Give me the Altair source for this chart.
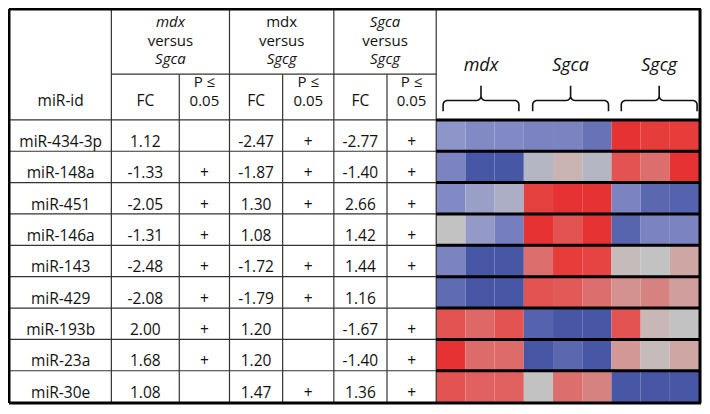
import altair as alt
import pandas as pd
import numpy as np

# ---------------- data ----------------
mirs = ["miR-434-3p", "miR-148a", "miR-451", "miR-146a", "miR-143",
        "miR-429", "miR-193b", "miR-23a", "miR-30e"]
fc_mdx_sgca = [1.12, -1.33, -2.05, -1.31, -2.48, -2.08, 2.00, 1.68, 1.08]
p_mdx_sgca = ["", "+", "+", "+", "+", "+", "+", "+", ""]
fc_mdx_sgcg = [-2.47, -1.87, 1.30, 1.08, -1.72, -1.79, 1.20, 1.20, 1.47]
p_mdx_sgcg = ["+", "+", "+", "", "+", "+", "", "", "+"]
fc_sgca_sgcg = [-2.77, -1.40, 2.66, 1.42, 1.44, 1.16, -1.67, -1.40, 1.36]
p_sgca_sgcg = ["+", "+", "+", "+", "+", "", "+", "+", "+"]

# comparison headers: (first, first italic, second, second italic)
comparisons = [("mdx", True, "Sgca", True),
               ("mdx", False, "Sgcg", True),
               ("Sgca", True, "Sgcg", True)]

heat_groups = ["mdx", "Sgca", "Sgcg"]
# heatmap z-scores (blue -1 .. grey 0 .. red +1), 3 samples per group
heat_values = [
    [-0.45, -0.55, -0.55, -0.60, -0.60, -0.75, 1.00, 0.95, 0.95],
    [-0.60, -1.00, -1.00, -0.12, 0.10, -0.12, 0.80, 0.60, 1.00],
    [-0.55, -0.35, -0.20, 0.92, 1.00, 1.00, -0.60, -0.85, -0.90],
    [0.00, -0.40, -0.65, 1.00, 0.80, 1.00, -0.88, -0.60, -0.60],
    [-0.60, -1.00, -1.00, 0.60, 0.95, 0.90, 0.05, 0.00, 0.20],
    [-0.82, -1.00, -1.00, 0.80, 0.75, 0.60, 0.35, 0.45, 0.25],
    [0.80, 0.65, 0.80, -0.90, -1.00, -1.00, 0.80, 0.08, 0.00],
    [1.00, 0.62, 0.62, -1.00, -0.85, -1.00, 0.30, 0.05, 0.20],
    [0.80, 0.70, 0.70, 0.00, 0.60, 0.45, -1.00, -1.00, -1.00],
]

# ---------------- layout (reference pixel units) ----------------
COL_EDGES = [4, 107, 176, 227, 281, 333, 387, 437, 704]
TOP, HEAD_MID, HEAD_BOT, BOTTOM, RIGHT = 3, 70, 117, 407, 706
ROW_EDGES = list(np.linspace(HEAD_BOT, BOTTOM, len(mirs) + 1))
BRACE_SPANS = [(444, 521), (535, 612), (625, 702)]
FONT = "Open Sans"
FS = 15.5
FS_HEAD = 15

xs = alt.Scale(domain=[2, 707], nice=False, zero=False)
ys = alt.Scale(domain=[2, 411], nice=False, zero=False, reverse=True)

def cc(i):
    return (COL_EDGES[i] + COL_EDGES[i + 1]) / 2

# ---------------- text (y = baseline) ----------------
texts = []
for g, (a, ai, b, bi) in enumerate(comparisons):
    cx = (COL_EDGES[1 + 2 * g] + COL_EDGES[3 + 2 * g]) / 2
    texts.append(dict(x=cx, y=22, t=a, it=ai, fs=FS_HEAD))
    texts.append(dict(x=cx, y=41, t="versus", it=False, fs=FS_HEAD))
    texts.append(dict(x=cx, y=60, t=b, it=bi, fs=FS_HEAD))
    texts.append(dict(x=cc(1 + 2 * g), y=102.5, t="FC", it=False, fs=FS))
    texts.append(dict(x=cc(2 + 2 * g), y=83.5, t="P \u2264", it=False, fs=FS_HEAD))
    texts.append(dict(x=cc(2 + 2 * g), y=102.5, t="0.05", it=False, fs=FS_HEAD))
texts.append(dict(x=cc(0), y=102.5, t="miR-id", it=False, fs=FS))

cols = [fc_mdx_sgca, p_mdx_sgca, fc_mdx_sgcg, p_mdx_sgcg, fc_sgca_sgcg, p_sgca_sgcg]
for r, m in enumerate(mirs):
    by = ROW_EDGES[r + 1] - 4.5
    texts.append(dict(x=cc(0), y=by, t=m, it=False, fs=FS))
    for j, col in enumerate(cols):
        v = col[r]
        s = f"{v:.2f}" if isinstance(v, float) else v
        if s:
            texts.append(dict(x=cc(1 + j), y=by, t=s, it=False, fs=FS))

for (x0, x1), gname in zip(BRACE_SPANS, heat_groups):
    texts.append(dict(x=(x0 + x1) / 2, y=67, t=gname, it=True, fs=18))

tdf = pd.DataFrame(texts)

# ---------------- heatmap ----------------
hx0, hx1 = COL_EDGES[-2], COL_EDGES[-1]
hw = (hx1 - hx0) / 9
heat = []
for r, row in enumerate(heat_values):
    for c, v in enumerate(row):
        heat.append(dict(x=hx0 + c * hw, x2=hx0 + (c + 1) * hw,
                         y=ROW_EDGES[r], y2=ROW_EDGES[r + 1], v=v,
                         mir=mirs[r], grp=heat_groups[c // 3]))
hdf = pd.DataFrame(heat)

# ---------------- grid lines ----------------
thin = []
thin.append(dict(x=COL_EDGES[1], x2=COL_EDGES[7], y=HEAD_MID, y2=HEAD_MID))
for yy in ROW_EDGES[:-1]:
    thin.append(dict(x=COL_EDGES[0], x2=COL_EDGES[7], y=yy, y2=yy))
for i in [1, 3, 5, 7]:
    thin.append(dict(x=COL_EDGES[i], x2=COL_EDGES[i], y=TOP, y2=BOTTOM))
for i in [2, 4, 6]:
    thin.append(dict(x=COL_EDGES[i], x2=COL_EDGES[i], y=HEAD_MID, y2=BOTTOM))
thin_df = pd.DataFrame(thin)

thick = []
for yy in ROW_EDGES[:-1]:
    thick.append(dict(x=COL_EDGES[7], x2=RIGHT, y=yy, y2=yy))
thick += [dict(x=TOP, x2=RIGHT, y=TOP, y2=TOP),
          dict(x=TOP, x2=RIGHT, y=BOTTOM + 1, y2=BOTTOM + 1),
          dict(x=TOP, x2=TOP, y=TOP, y2=BOTTOM + 1),
          dict(x=RIGHT - 1, x2=RIGHT - 1, y=TOP, y2=BOTTOM + 1)]
thick_df = pd.DataFrame(thick)

# ---------------- braces ----------------
Y_END, Y_BAR, Y_TIP, R = 108, 97, 82, 4.5
pts = []
for b, (x0, x1) in enumerate(BRACE_SPANS):
    xm = (x0 + x1) / 2
    seq = [(x0, Y_END), (x0, Y_BAR + R)]
    th = np.linspace(np.pi, np.pi / 2, 8)[1:]
    seq += [(x0 + R + R * np.cos(t), Y_BAR + R - R * np.sin(t)) for t in th]
    seq += [(xm - R, Y_BAR)]
    th = np.linspace(-np.pi / 2, 0, 8)[1:]
    seq += [(xm - R + R * np.cos(t), Y_BAR - R - R * np.sin(t)) for t in th]
    seq += [(xm, Y_TIP)]
    left = seq
    right = [(2 * xm - px, py) for (px, py) in reversed(left)]
    full = left + right[1:]
    for k, (px, py) in enumerate(full):
        pts.append(dict(b=b, k=k, x=px, y=py))
bdf = pd.DataFrame(pts)

# ---------------- chart ----------------
X = lambda f: alt.X(f, scale=xs, axis=None)
Y = lambda f: alt.Y(f, scale=ys, axis=None)

rects = alt.Chart(hdf).mark_rect(strokeWidth=0).encode(
    x=X("x:Q"), x2="x2:Q", y=Y("y:Q"), y2="y2:Q",
    color=alt.Color("v:Q", legend=None,
                    scale=alt.Scale(domain=[-1, -0.5, 0, 0.5, 1],
                                    range=["#4757a6", "#8890c8", "#c2c2c2",
                                           "#d77a7a", "#e63232"])),
    tooltip=["mir:N", "grp:N", "v:Q"])

thin_rules = alt.Chart(thin_df).mark_rule(color="#333333", strokeWidth=1.2).encode(
    x=X("x:Q"), x2="x2:Q", y=Y("y:Q"), y2="y2:Q")
thick_rules = alt.Chart(thick_df).mark_rule(color="#000000", strokeWidth=3).encode(
    x=X("x:Q"), x2="x2:Q", y=Y("y:Q"), y2="y2:Q")

braces = alt.Chart(bdf).mark_line(color="#111111", strokeWidth=1.6).encode(
    x=X("x:Q"), y=Y("y:Q"), detail="b:N", order="k:Q")

txt_up = alt.Chart(tdf).transform_filter("!datum.it").mark_text(
    font=FONT, color="#111111", baseline="alphabetic", align="center").encode(
    x=X("x:Q"), y=Y("y:Q"), text="t:N", size=alt.Size("fs:Q", scale=None))
txt_it = alt.Chart(tdf).transform_filter("datum.it").mark_text(
    font=FONT, fontStyle="italic", color="#111111", baseline="alphabetic",
    align="center").encode(
    x=X("x:Q"), y=Y("y:Q"), text="t:N", size=alt.Size("fs:Q", scale=None))

chart = alt.layer(rects, thin_rules, thick_rules, braces, txt_up, txt_it).properties(
    width=694, height=398, padding=0,
    autosize=alt.AutoSizeParams(type="none")
).configure_view(stroke=None)

chart.save("out.html", embed_options={"renderer": "svg", "actions": False})
